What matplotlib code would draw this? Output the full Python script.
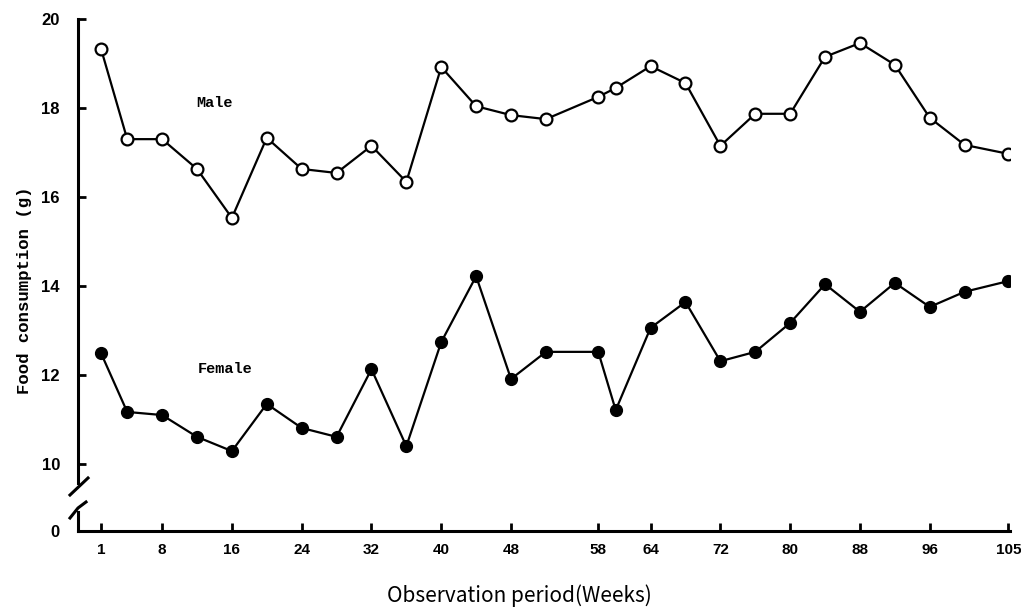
import numpy as np
from matplotlib import pyplot as plt
from matplotlib.lines import Line2D

weeks = [1, 4, 8, 12, 16, 20, 24, 28, 32, 36, 40, 44, 48, 52, 58, 60,
         64, 68, 72, 76, 80, 84, 88, 92, 96, 100, 105]
male = [19.33, 17.3, 17.3, 16.63, 15.53, 17.33, 16.63, 16.54, 17.15, 16.34,
        18.92, 18.04, 17.84, 17.75, 18.25, 18.45, 18.94, 18.56, 17.15, 17.87,
        17.87, 19.15, 19.46, 18.97, 17.78, 17.17, 16.97]
female = [12.49, 11.17, 11.1, 10.61, 10.29, 11.35, 10.81, 10.61, 12.13, 10.4,
          12.74, 14.22, 11.91, 12.52, 12.52, 11.21, 13.06, 13.64, 12.31, 12.52,
          13.17, 14.04, 13.42, 14.07, 13.53, 13.87, 14.11]
xticks = [1, 8, 16, 24, 32, 40, 48, 58, 64, 72, 80, 88, 96, 105]
yticks = [10, 12, 14, 16, 18, 20]

W, H = 1021, 612
fig = plt.figure(figsize=(W/100, H/100), dpi=100)

tickfont = dict(family=['Liberation Sans', 'DejaVu Sans'], weight='bold', size=11)
ytickfont = dict(family=['Liberation Sans', 'DejaVu Sans'], weight='bold', size=12)
monofont = dict(family=['Liberation Mono', 'DejaVu Sans Mono'], weight='bold')

left = 78/W
right = 1010/W
xlo, xhi = -1.64, 105.2

# upper part (10..20)
ax = fig.add_axes([left, 1-483/H, right-left, (483-19)/H])
ax.plot(weeks, male, color='black', lw=1.6, marker='o', ms=8.5,
        mfc='white', mec='black', mew=1.6)
ax.plot(weeks, female, color='black', lw=1.6, marker='o', ms=8.5,
        mfc='black', mec='black')
ax.set_xlim(xlo, xhi)
ax.set_ylim(10 - (483-464)/44.5, 20)
ax.set_yticks(yticks)
ax.set_yticklabels([str(v) for v in yticks], fontdict=ytickfont)
ax.tick_params(axis='y', direction='in', length=6, width=2, pad=13)
ax.set_xticks([])
for s in ['top', 'right', 'bottom']:
    ax.spines[s].set_visible(False)
ax.spines['left'].set_linewidth(2.2)
ax.text(14.0, 18.11, "Male", ha='center', va='center', fontsize=11, **monofont)
ax.text(15.2, 12.13, "Female", ha='center', va='center', fontsize=11, **monofont)

# lower part (0)
bx = fig.add_axes([left, 1-531/H, right-left, (531-512)/H])
bx.set_xlim(xlo, xhi)
bx.set_ylim(0, 1)
bx.set_yticks([0])
bx.set_yticklabels(['0'], fontdict=ytickfont)
bx.set_xticks(xticks)
bx.set_xticklabels([str(v) for v in xticks], fontdict=tickfont)
bx.tick_params(axis='y', length=0, pad=13)
bx.tick_params(axis='x', direction='in', length=6, width=2, pad=9)
for s in ['top', 'right']:
    bx.spines[s].set_visible(False)
bx.spines['left'].set_linewidth(2.2)
bx.spines['bottom'].set_linewidth(2.2)

# break marks
fig.add_artist(Line2D([70/W, 88/W], [1-495/H, 1-478/H], color='black', lw=2.2))
fig.add_artist(Line2D([70/W, 78/W, 86/W], [1-518/H, 1-508/H, 1-502/H], color='black', lw=2.2))

fig.text(25/W, 1-290/H, "Food consumption (g)", rotation=90, ha='center', va='center',
         fontsize=12.5, **monofont)
fig.text(519/W, 1-596/H, "Observation period(Weeks)", ha='center', va='center',
         fontsize=15, family=['Noto Sans CJK JP', 'DejaVu Sans'])

fig.savefig("out.png", dpi=100)
